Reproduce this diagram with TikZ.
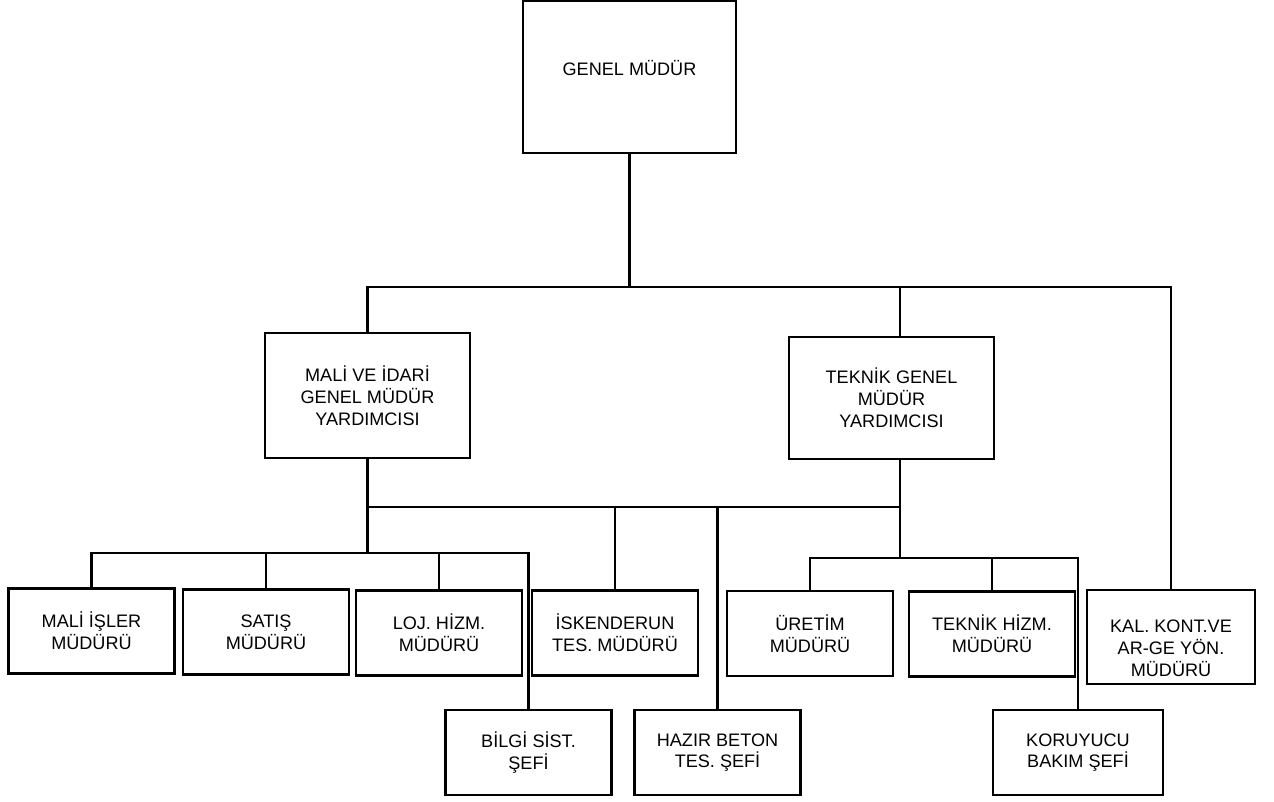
\documentclass[tikz,border=0pt]{standalone}
\usepackage{fontspec}
\setmainfont{Liberation Sans}
\usepackage{tikz}
\usetikzlibrary{positioning,calc}

\begin{document}
\begin{tikzpicture}[
    x=0.02cm, y=-0.02cm,
    box/.style={rectangle, draw, line width=1.3pt, align=center, inner sep=2pt, font=\fontsize{10.3}{12.4}\selectfont},
    unit/.style={box, minimum width=3.32cm, minimum height=1.7cm},
    conn/.style={line width=1.3pt}
]
    \useasboundingbox (0,0) rectangle (1274,801);

    \node[box, minimum width=4.26cm, minimum height=3.04cm] (gm) at (629.5,77) {GENEL MÜDÜR\rule[-0.36cm]{0pt}{0.36cm}};
    \node[box, minimum width=4.1cm, minimum height=2.5cm] (mvi) at (367.5,395.5) {MALİ VE İDARİ\\GENEL MÜDÜR\\YARDIMCISI};
    \node[box, minimum width=4.1cm, minimum height=2.44cm] (tgm) at (891.5,398) {TEKNİK GENEL\\MÜDÜR\\YARDIMCISI};

    \node[unit] (mim) at (91.5,631) {MALİ İŞLER\\MÜDÜRÜ};
    \node[unit] (sat) at (266,632) {SATIŞ\\MÜDÜRÜ};
    \node[unit] (loj) at (439,633) {LOJ. HİZM.\\MÜDÜRÜ};
    \node[unit] (isk) at (615,633) {İSKENDERUN\\TES. MÜDÜRÜ};
    \node[unit] (ure) at (810,633.5) {ÜRETİM\\MÜDÜRÜ};
    \node[unit] (thm) at (992,634) {TEKNİK HİZM.\\MÜDÜRÜ};
    \node[unit, minimum width=3.36cm, minimum height=1.88cm] (kal) at (1171,637) {\rule{0pt}{0.7cm}KAL. KONT.VE\\AR-GE YÖN.\\MÜDÜRÜ};

    \node[unit] (bss) at (528.5,752.5) {BİLGİ SİST.\\ŞEFİ};
    \node[unit] (hbt) at (717.5,752.5) {HAZIR BETON\\TES. ŞEFİ};
    \node[unit, minimum width=3.4cm] (kbs) at (1078,752.5) {KORUYUCU\\BAKIM ŞEFİ};

    \coordinate (top) at (0,287);
    \coordinate (mid) at (0,507);
    \coordinate (lbus) at (0,553);
    \coordinate (rbus) at (0,558);
    \coordinate (tin) at ([xshift=0.17cm]tgm.north);
    \coordinate (tout) at ([xshift=0.17cm]tgm.south);

    \draw[conn] (gm.south) -- (gm.south |- top);
    \draw[conn] (mvi.north) |- (kal.north |- top) -- (kal.north);
    \draw[conn] (tin) -- (tin |- top);

    \draw[conn] (mvi.south) -- (mvi.south |- lbus);
    \draw[conn] (tout) -- (tout |- rbus);
    \draw[conn] (mvi.south |- mid) -- (tout |- mid);
    \draw[conn] (isk.north) -- (isk.north |- mid);
    \draw[conn] (hbt.north) -- (hbt.north |- mid);

    \draw[conn] (mim.north) |- (bss.north |- lbus) -- (bss.north);
    \draw[conn] (sat.north) -- (sat.north |- lbus);
    \draw[conn] (loj.north) -- (loj.north |- lbus);

    \draw[conn] (ure.north) |- (kbs.north |- rbus) -- (kbs.north);
    \draw[conn] (thm.north) -- (thm.north |- rbus);
\end{tikzpicture}
\end{document}
